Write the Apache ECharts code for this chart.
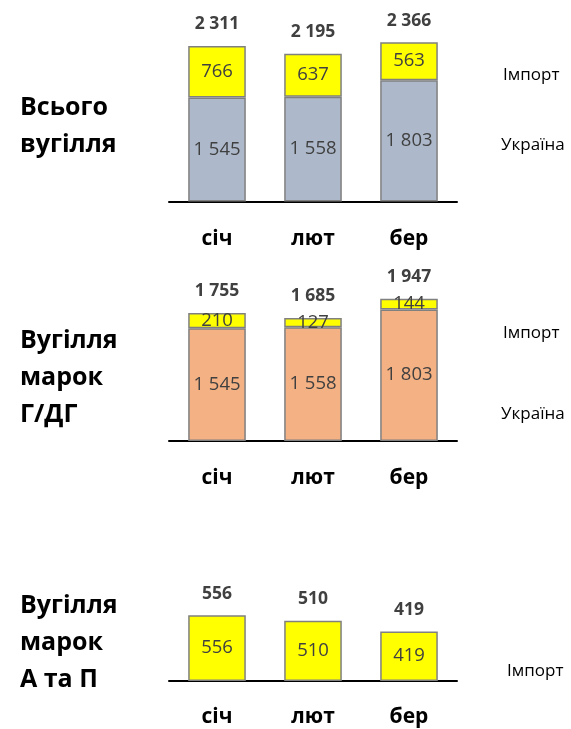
<!DOCTYPE html>
<html>
<head>
<meta charset="utf-8">
<script src="https://cdn.jsdelivr.net/npm/echarts@6/dist/echarts.min.js"></script>
<style>
  html, body { margin: 0; padding: 0; background: #fff; }
  #chart { width: 571px; height: 729px; }
</style>
</head>
<body>
<div id="chart"></div>
<script>
// дані
const months = ["січ", "лют", "бер"];
const allUkraine = [1545, 1558, 1803];
const allImport = [766, 637, 563];
const gUkraine = [1545, 1558, 1803];
const gImport = [210, 127, 144];
const apImport = [556, 510, 419];

const FONT = "'Open Sans', 'Noto Sans', sans-serif";
const fmt = (v) => String(v).replace(/\B(?=(\d{3})+(?!\d))/g, " ");
const sum = (a, b) => a.map((v, i) => v + b[i]);

const myChart = echarts.init(document.getElementById("chart"));

// сітки: left 169, right 114
const grids = [
  { left: 169, right: 114, top: 201.5 - 2800 * 0.0673, bottom: 729 - 201.5 },
  { left: 169, right: 114, top: 441 - 2000 * 0.073, bottom: 729 - 441 },
  { left: 169, right: 114, top: 681 - 600 * 0.1183, bottom: 729 - 681 },
];
const yMax = [2800, 2000, 600];
const labelMargin = [27, 27, 26];

const xAxes = grids.map((g, i) => ({
  type: "category",
  gridIndex: i,
  data: months,
  axisLine: { show: true, lineStyle: { color: "#000", width: 2 } },
  axisTick: { show: false },
  axisLabel: {
    margin: labelMargin[i],
    color: "#000",
    fontSize: 21,
    fontWeight: "bold",
    fontFamily: FONT,
  },
}));
const yAxes = grids.map((g, i) => ({
  type: "value",
  gridIndex: i,
  min: 0,
  max: yMax[i],
  show: false,
  splitLine: { show: false },
}));

const innerLabel = {
  show: true,
  position: "inside",
  color: "#404040",
  fontSize: 18.5,
  fontFamily: FONT,
  formatter: (p) => fmt(p.value),
};
const barBorder = { borderColor: "#808080", borderWidth: 1.5 };

function barSeries(idx, data, color, stack) {
  return {
    type: "bar",
    xAxisIndex: idx,
    yAxisIndex: idx,
    stack: stack,
    barWidth: "60%",
    data: data,
    itemStyle: Object.assign({ color: color }, barBorder),
    label: innerLabel,
    silent: true,
  };
}
// підписи сум над стовпцями
function totalSeries(idx, data) {
  return {
    type: "line",
    xAxisIndex: idx,
    yAxisIndex: idx,
    data: data,
    symbol: "circle",
    symbolSize: 1,
    itemStyle: { color: "rgba(0,0,0,0)" },
    lineStyle: { width: 0, color: "rgba(0,0,0,0)" },
    label: {
      show: true,
      position: "top",
      distance: 12,
      color: "#404040",
      fontSize: 17.5,
      fontWeight: "bold",
      fontFamily: FONT,
      formatter: (p) => fmt(p.value),
    },
    silent: true,
    z: 5,
  };
}

function sideText(x, y, text, size, bold, lh) {
  return {
    type: "text",
    left: x,
    top: y,
    style: {
      text: text,
      fill: "#000",
      font: (bold ? "bold " : "") + size + "px " + FONT,
      lineHeight: lh || size,
    },
  };
}

myChart.setOption({
  animation: false,
  grid: grids,
  xAxis: xAxes,
  yAxis: yAxes,
  series: [
    barSeries(0, allUkraine, "#ADB9CA", "a"),
    barSeries(0, allImport, "#FFFF00", "a"),
    totalSeries(0, sum(allUkraine, allImport)),
    barSeries(1, gUkraine, "#F4B183", "g"),
    barSeries(1, gImport, "#FFFF00", "g"),
    totalSeries(1, sum(gUkraine, gImport)),
    barSeries(2, apImport, "#FFFF00", "p"),
    totalSeries(2, apImport),
  ],
  graphic: [
    sideText(20, 89, "Всього\nвугілля", 25, true, 37),
    sideText(20, 322, "Вугілля\nмарок\nГ/ДГ", 25, true, 37),
    sideText(20, 587, "Вугілля\nмарок\nА та П", 25, true, 37),
    sideText(503, 67, "Імпорт", 17, false),
    sideText(501, 137, "Україна", 17, false),
    sideText(503, 325, "Імпорт", 17, false),
    sideText(501, 406, "Україна", 17, false),
    sideText(507, 663, "Імпорт", 17, false),
  ],
});
</script>
</body>
</html>
